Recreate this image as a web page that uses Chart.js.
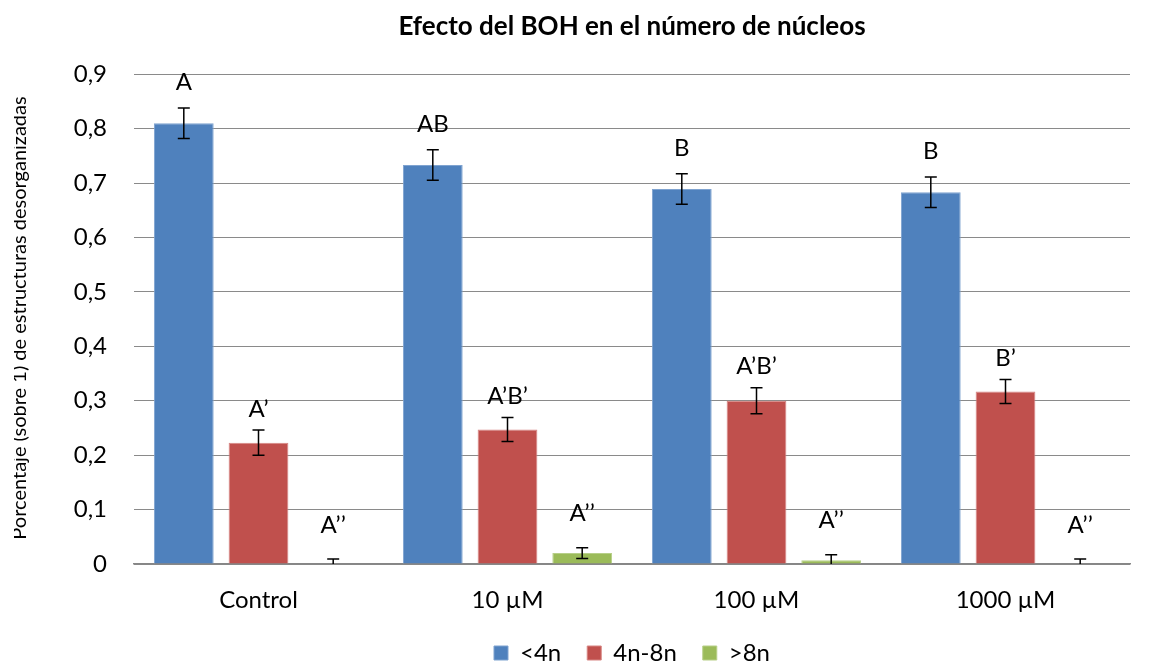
<!DOCTYPE html>
<html>
<head>
<meta charset="utf-8">
<script src="https://cdn.jsdelivr.net/npm/chart.js@4/dist/chart.umd.min.js"></script>
<style>
  html, body { margin: 0; padding: 0; background: #fff; }
  #wrap { width: 1150px; height: 664px; position: relative; }
</style>
</head>
<body>
<div id="wrap"><canvas id="chart"></canvas></div>
<script>
const categories = ["Control", "10 µM", "100 µM", "1000 µM"];

const lt4n = [0.81, 0.733, 0.689, 0.683];
const lt4nErr = [0.028, 0.028, 0.028, 0.028];
const lt4nLetters = ["A", "AB", "B", "B"];

const n4to8 = [0.223, 0.247, 0.30, 0.317];
const n4to8Err = [0.023, 0.022, 0.024, 0.022];
const n4to8Letters = ["A’", "A’B’", "A’B’", "B’"];

const gt8n = [0, 0.02, 0.007, 0];
const gt8nErr = [0.009, 0.01, 0.01, 0.009];
const gt8nLetters = ["A’’", "A’’", "A’’", "A’’"];

const yTitle = "Porcentaje (sobre 1) de estructuras desorganizadas";
const FONT = "Lato, 'Open Sans', sans-serif";

// error bars + letters over each bar
const errorBars = {
    id: "errorBars",
    afterDatasetsDraw(chart) {
        const { ctx } = chart;
        const y = chart.scales.y;
        chart.data.datasets.forEach((ds, di) => {
            const meta = chart.getDatasetMeta(di);
            meta.data.forEach((bar, i) => {
                const v = ds.data[i];
                const e = ds.errors[i];
                const top = y.getPixelForValue(v + e);
                const bot = y.getPixelForValue(Math.max(v - e, 0));
                ctx.save();
                ctx.strokeStyle = "#000";
                ctx.lineWidth = 1.5;
                ctx.beginPath();
                ctx.moveTo(bar.x, top);
                ctx.lineTo(bar.x, bot);
                ctx.moveTo(bar.x - 6, top);
                ctx.lineTo(bar.x + 6, top);
                if (v - e > 0) {
                    ctx.moveTo(bar.x - 6, bot);
                    ctx.lineTo(bar.x + 6, bot);
                }
                ctx.stroke();
                ctx.fillStyle = "#000";
                ctx.font = "24px " + FONT;
                ctx.textAlign = "center";
                ctx.textBaseline = "bottom";
                ctx.fillText(ds.letters[i], bar.x, top - ds.letterGap);
                ctx.restore();
            });
        });
    },
};

// rotated y title, clipped on the left like the original
const yAxisTitle = {
    id: "yAxisTitle",
    afterDraw(chart) {
        const { ctx } = chart;
        ctx.save();
        ctx.beginPath();
        ctx.rect(14, 0, 100, chart.height);
        ctx.clip();
        ctx.translate(26, 318);
        ctx.rotate(-Math.PI / 2);
        ctx.font = "20px " + FONT;
        ctx.fillStyle = "#000";
        ctx.textAlign = "center";
        ctx.textBaseline = "alphabetic";
        ctx.fillText(yTitle, 0, 0);
        ctx.restore();
    },
};

new Chart(document.getElementById("chart"), {
    type: "bar",
    data: {
        labels: categories,
        datasets: [
            {
                label: "<4n",
                data: lt4n,
                errors: lt4nErr,
                letters: lt4nLetters,
                letterGap: 14,
                backgroundColor: "#4F81BD",
                borderColor: "#7FA3D0",
                borderWidth: 1,
            },
            {
                label: "4n-8n",
                data: n4to8,
                errors: n4to8Err,
                letters: n4to8Letters,
                letterGap: 9,
                backgroundColor: "#C0504D",
                borderColor: "#D78583",
                borderWidth: 1,
            },
            {
                label: ">8n",
                data: gt8n,
                errors: gt8nErr,
                letters: gt8nLetters,
                letterGap: 22,
                backgroundColor: "#9BBB59",
                borderColor: "#B7CF88",
                borderWidth: 1,
            },
        ],
    },
    options: {
        responsive: true,
        maintainAspectRatio: false,
        animation: false,
        categoryPercentage: 0.9,
        barPercentage: 0.8,
        layout: { padding: { left: 2, right: 20, top: 0, bottom: -11 } },
        plugins: {
            title: {
                display: true,
                text: "Efecto del BOH en el número de núcleos",
                fullSize: false,
                color: "#000",
                font: { family: FONT, size: 26, weight: "bold" },
                padding: { top: 11, bottom: 32 },
            },
            legend: {
                position: "bottom",
                fullSize: false,
                labels: {
                    color: "#000",
                    font: { family: FONT, size: 24 },
                    boxWidth: 14,
                    boxHeight: 14,
                    padding: 26,
                },
            },
            tooltip: { enabled: false },
        },
        scales: {
            x: {
                afterFit(scale) { scale.height = 51; },
                grid: { display: false, drawTicks: false },
                border: { display: true, color: "#868686", width: 1.5 },
                ticks: {
                    color: "#000",
                    font: { family: FONT, size: 24 },
                    padding: 22,
                },
            },
            y: {
                min: 0,
                max: 0.9,
                afterFit(scale) { scale.width = 132; },
                grid: { color: "#8a8a8a", lineWidth: 1, drawTicks: false },
                border: { display: false },
                ticks: {
                    stepSize: 0.1,
                    color: "#000",
                    font: { family: FONT, size: 24 },
                    padding: 27,
                    callback: (v) => (v === 0 ? "0" : v.toFixed(1).replace(".", ",")),
                },
            },
        },
    },
    plugins: [errorBars, yAxisTitle],
});
</script>
</body>
</html>
